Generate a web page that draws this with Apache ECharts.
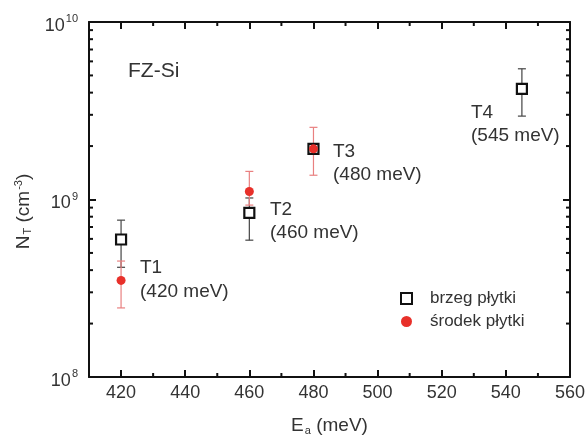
<!DOCTYPE html>
<html>
<head>
<meta charset="utf-8">
<script src="https://cdn.jsdelivr.net/npm/echarts@6/dist/echarts.min.js"></script>
<style>
  html, body { margin: 0; padding: 0; background: #fff; }
  #chart { width: 587px; height: 438px; }
</style>
</head>
<body>
<div id="chart"></div>
<script>
// brzeg plytki (edge of wafer) - open squares
var edgeE = [420, 460, 480, 545];
var edgeN = [5.95e8, 8.4e8, 1.93e9, 4.2e9];
// error bars [E, low, high]
var edgeErr = [[420, 4.15e8, 7.65e8], [460, 5.9e8, 1.02e9], [545, 2.95e9, 5.45e9]];

// srodek plytki (centre of wafer) - red dots
var midE = [420, 460, 480];
var midN = [3.5e8, 1.11e9, 1.93e9];
var midErr = [[420, 2.45e8, 4.5e8], [460, 9.3e8, 1.44e9], [480, 1.37e9, 2.55e9]];

// minor ticks
var xMinor = [430, 450, 470, 490, 510, 530, 550];
var yMinor = [2e8, 3e8, 4e8, 5e8, 6e8, 7e8, 8e8, 9e8, 2e9, 3e9, 4e9, 5e9, 6e9, 7e9, 8e9, 9e9];

var FONT = 'Liberation Sans, Arial, sans-serif';
var TXT = '#333';

function pairs(xs, ys) {
  return xs.map(function (x, i) { return [x, ys[i]]; });
}

function errBar(color) {
  return function (params, api) {
    var x = api.value(0);
    var lo = api.coord([x, api.value(1)]);
    var hi = api.coord([x, api.value(2)]);
    var w = 4;
    var st = { stroke: color, lineWidth: 1.2 };
    return {
      type: 'group',
      children: [
        { type: 'line', shape: { x1: lo[0], y1: lo[1], x2: hi[0], y2: hi[1] }, style: st },
        { type: 'line', shape: { x1: lo[0] - w, y1: lo[1], x2: lo[0] + w, y2: lo[1] }, style: st },
        { type: 'line', shape: { x1: hi[0] - w, y1: hi[1], x2: hi[0] + w, y2: hi[1] }, style: st }
      ]
    };
  };
}

var chart = echarts.init(document.getElementById('chart'));

var axisLine = { show: true, lineStyle: { color: '#111', width: 2 } };
var tick = { show: true, inside: true, length: 7, lineStyle: { color: '#111', width: 2 } };

var option = {
  backgroundColor: '#fff',
  animation: false,
  grid: { left: 89, right: 17, top: 22, bottom: 61, containLabel: false, outerBoundsMode: 'none' },
  legend: {
    orient: 'vertical',
    left: 395,
    top: 285,
    itemWidth: 11,
    itemHeight: 11,
    itemGap: 6,
    textStyle: { fontFamily: FONT, fontSize: 17, color: TXT, padding: [0, 0, 0, 13] },
    data: ['brzeg płytki', 'środek płytki']
  },
  xAxis: [{
    type: 'value',
    min: 410, max: 560,
    splitNumber: 7,
    axisLine: axisLine,
    axisTick: tick,
    splitLine: { show: false },
    axisLabel: { showMinLabel: false, fontFamily: FONT, fontSize: 18, color: TXT, margin: 7 },
    name: '{n|E}{s|a}{n| (meV)}',
    nameLocation: 'middle',
    nameGap: 38,
    nameTextStyle: {
      rich: {
        n: { fontFamily: FONT, fontSize: 19, color: TXT },
        s: { fontFamily: FONT, fontSize: 11, color: TXT, padding: [10, 0, 0, 1] }
      }
    }
  }, {
    type: 'value',
    position: 'top',
    min: 410, max: 560,
    splitNumber: 7,
    axisLine: axisLine,
    axisTick: tick,
    splitLine: { show: false },
    axisLabel: { show: false }
  }],
  yAxis: [{
    type: 'log',
    logBase: 10,
    min: 1e8, max: 1e10,
    axisLine: axisLine,
    axisTick: tick,
    splitLine: { show: false },
    axisLabel: {
      fontFamily: FONT, color: TXT, margin: 11,
      formatter: function (v) {
        return '{b|10}{s|' + Math.round(Math.log10(v)) + '}';
      },
      rich: {
        b: { fontFamily: FONT, fontSize: 18, color: TXT, padding: [8, 0, 0, 0] },
        s: { fontFamily: FONT, fontSize: 11, color: TXT, padding: [0, 0, 6, 1] }
      }
    },
    name: '{n|N}{s|T}{n| (cm}{p|-3}{n|)}',
    nameLocation: 'middle',
    nameGap: 52,
    nameRotate: 90,
    nameTextStyle: {
      padding: [0, 24, 0, 0],
      rich: {
        n: { fontFamily: FONT, fontSize: 19, color: TXT },
        s: { fontFamily: FONT, fontSize: 11, color: TXT, padding: [10, 0, 0, 1] },
        p: { fontFamily: FONT, fontSize: 11, color: TXT, padding: [0, 0, 9, 1] }
      }
    }
  }, {
    type: 'log',
    logBase: 10,
    position: 'right',
    min: 1e8, max: 1e10,
    axisLine: axisLine,
    axisTick: tick,
    splitLine: { show: false },
    axisLabel: { show: false }
  }],
  graphic: [
    { type: 'text', left: 128, top: 61, style: { text: 'FZ-Si', fontFamily: FONT, fontSize: 21, fill: TXT } },
    { type: 'text', left: 140, top: 256, style: { text: 'T1\n(420 meV)', fontFamily: FONT, fontSize: 19, lineHeight: 24, fill: TXT } },
    { type: 'text', left: 270, top: 198, style: { text: 'T2\n(460 meV)', fontFamily: FONT, fontSize: 19, lineHeight: 23, fill: TXT } },
    { type: 'text', left: 333, top: 140, style: { text: 'T3\n(480 meV)', fontFamily: FONT, fontSize: 19, lineHeight: 23, fill: TXT } },
    { type: 'text', left: 471, top: 101, style: { text: 'T4\n(545 meV)', fontFamily: FONT, fontSize: 19, lineHeight: 23, fill: TXT } }
  ],
  series: [
    {
      name: 'xMinor',
      type: 'custom',
      silent: true,
      data: xMinor.map(function (x) { return [x, 1e9]; }),
      renderItem: function (params, api) {
        var p = api.coord([api.value(0), api.value(1)]);
        var cs = params.coordSys;
        var st = { stroke: '#111', lineWidth: 2 };
        return {
          type: 'group',
          children: [
            { type: 'line', shape: { x1: p[0], y1: cs.y + cs.height, x2: p[0], y2: cs.y + cs.height - 4 }, style: st },
            { type: 'line', shape: { x1: p[0], y1: cs.y, x2: p[0], y2: cs.y + 4 }, style: st }
          ]
        };
      }
    },
    {
      name: 'yMinor',
      type: 'custom',
      silent: true,
      data: yMinor.map(function (y) { return [480, y]; }),
      renderItem: function (params, api) {
        var p = api.coord([api.value(0), api.value(1)]);
        var cs = params.coordSys;
        var st = { stroke: '#111', lineWidth: 2 };
        return {
          type: 'group',
          children: [
            { type: 'line', shape: { x1: cs.x, y1: p[1], x2: cs.x + 4, y2: p[1] }, style: st },
            { type: 'line', shape: { x1: cs.x + cs.width, y1: p[1], x2: cs.x + cs.width - 4, y2: p[1] }, style: st }
          ]
        };
      }
    },
    {
      name: 'edgeErr',
      type: 'custom',
      silent: true,
      encode: { x: 0, y: [1, 2] },
      data: edgeErr,
      renderItem: errBar('#444'),
      z: 2
    },
    {
      name: 'midErr',
      type: 'custom',
      silent: true,
      encode: { x: 0, y: [1, 2] },
      data: midErr,
      renderItem: errBar('#e98080'),
      z: 2
    },
    {
      name: 'brzeg płytki',
      type: 'scatter',
      symbol: 'rect',
      symbolSize: 10,
      itemStyle: { color: '#fff', borderColor: '#111', borderWidth: 2.2, opacity: 1 },
      data: pairs(edgeE, edgeN),
      z: 3
    },
    {
      name: 'środek płytki',
      type: 'scatter',
      symbol: 'circle',
      symbolSize: 9,
      itemStyle: { color: '#e8302a', opacity: 1 },
      data: pairs(midE, midN),
      z: 4
    }
  ]
};

chart.setOption(option);
</script>
</body>
</html>
